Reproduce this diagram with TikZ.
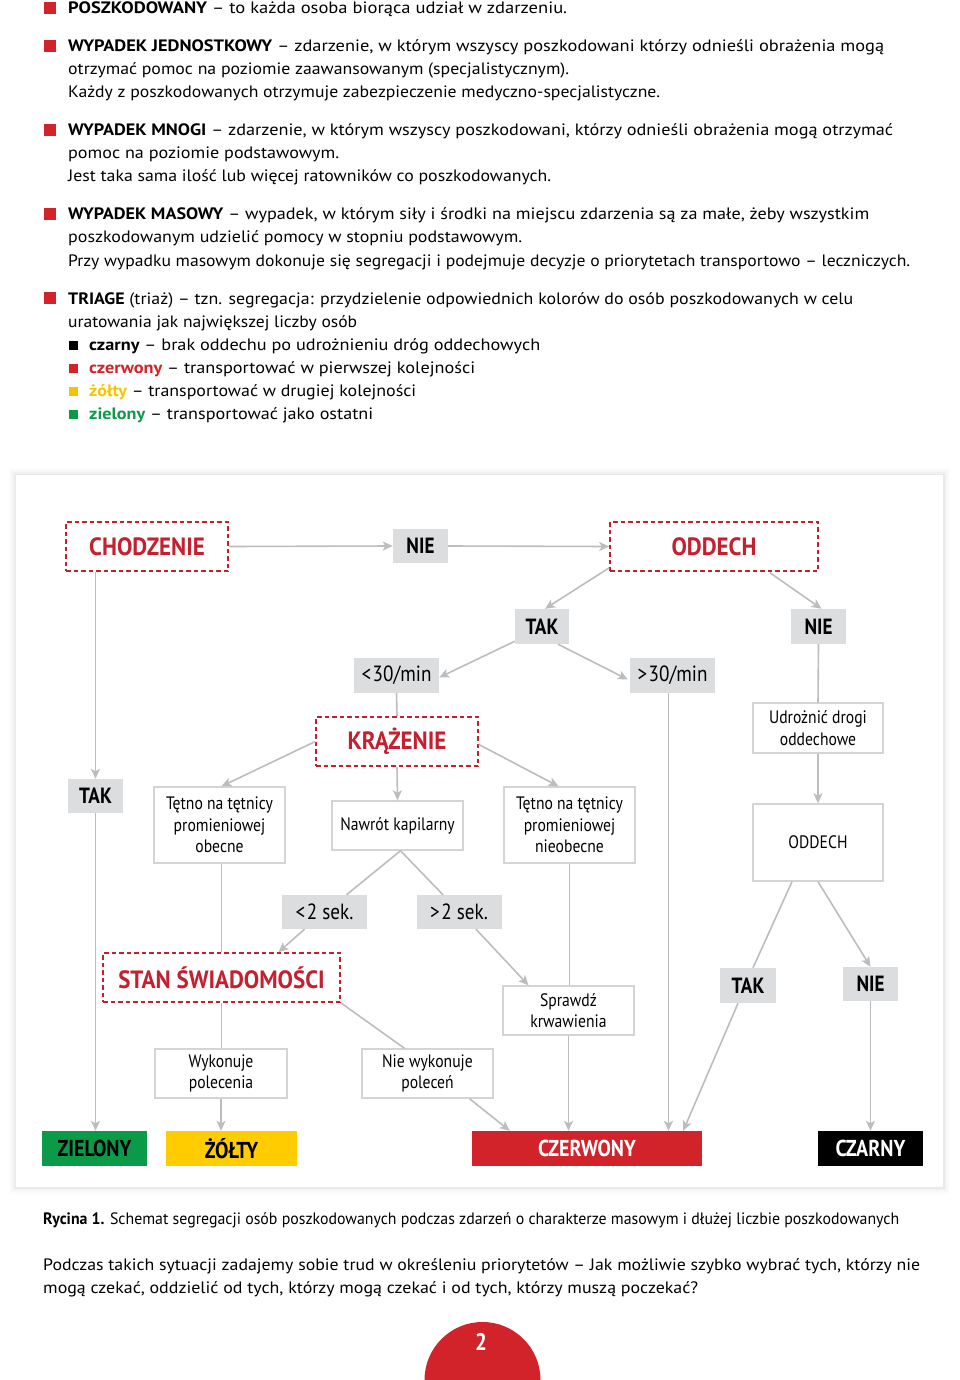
\documentclass[tikz,border=0pt]{standalone}
\usepackage{fontspec}
\setmainfont{PT Sans}
\newfontfamily\cnd[FakeStretch=0.87]{PT Sans}
\newfontfamily\cndt[FakeStretch=0.92]{PT Sans}
\usepackage{graphicx}
\usetikzlibrary{arrows.meta}
\definecolor{tred}{HTML}{C4202F}
\definecolor{bred}{HTML}{D2232A}
\definecolor{tgreen}{HTML}{0A9A48}
\definecolor{tyellow}{HTML}{FFCC00}
\definecolor{lyellow}{HTML}{F5C400}
\definecolor{gbg}{HTML}{DCDDDF}
\definecolor{lgray}{HTML}{BDBDBD}
\definecolor{wline}{HTML}{D4D4D4}
\newcommand\txtline[5]{\node[anchor=base west,inner sep=0,font=\fontsize{16.5}{20}\selectfont] (#1) at (#2,#3) {\resizebox{#4pt}{\height}{#5}};}
\tikzset{
  dbox/.style={draw=tred, dash pattern=on 4.5pt off 3pt, line width=1.6pt, text=tred, inner sep=0, font=\cndt\bfseries\fontsize{25}{25}\selectfont},
  gbox/.style={fill=gbg, inner sep=0, font=\cnd\bfseries\fontsize{22}{22}\selectfont},
  gboxr/.style={fill=gbg, inner sep=0, font=\cnd\fontsize{22}{22}\selectfont},
  wbox/.style={draw=wline, line width=1.4pt, fill=white, inner sep=0, align=center, font=\cnd\fontsize{18}{21.5}\selectfont},
  cbox/.style={inner sep=0, font=\cnd\bfseries\fontsize{23}{23}\selectfont},
  arr/.style={draw=lgray, line width=1.6pt, -{Stealth[length=10pt,width=9pt,inset=2.5pt]}},
  ln/.style={draw=lgray, line width=1.6pt},
  bul/.style={fill=bred, inner sep=0, minimum size=12pt},
  sbul/.style={inner sep=0, minimum size=9pt},
}
\begin{document}
\begin{tikzpicture}[x=1pt,y=-1pt]
\useasboundingbox (0,0) rectangle (960,1380);
% ---------------- top text ----------------
\node[bul] (b1) at (50,8) {};
\txtline{l1}{68}{14}{499}{\textbf{POSZKODOWANY} – to każda osoba biorąca udział w zdarzeniu.}
\node[bul] (b2) at (50,46) {};
\txtline{l2}{68}{52}{816}{\textbf{WYPADEK JEDNOSTKOWY} – zdarzenie, w którym wszyscy poszkodowani którzy odnieśli obrażenia mogą}
\txtline{l3}{68}{75}{501}{otrzymać pomoc na poziomie zaawansowanym (specjalistycznym).}
\txtline{l4}{68}{98}{592}{Każdy z poszkodowanych otrzymuje zabezpieczenie medyczno-specjalistyczne.}
\node[bul] (b3) at (50,130) {};
\txtline{l5}{68}{136}{825}{\textbf{WYPADEK MNOGI} – zdarzenie, w którym wszyscy poszkodowani, którzy odnieśli obrażenia mogą otrzymać}
\txtline{l6}{68}{159}{271}{pomoc na poziomie podstawowym.}
\txtline{l7}{68}{182}{483}{Jest taka sama ilość lub więcej ratowników co poszkodowanych.}
\node[bul] (b4) at (50,214) {};
\txtline{l8}{68}{220}{801}{\textbf{WYPADEK MASOWY} – wypadek, w którym siły i środki na miejscu zdarzenia są za małe, żeby wszystkim}
\txtline{l9}{68}{243}{454}{poszkodowanym udzielić pomocy w stopniu podstawowym.}
\txtline{l10}{68}{266}{842}{Przy wypadku masowym dokonuje się segregacji i podejmuje decyzje o priorytetach transportowo – leczniczych.}
\node[bul] (b5) at (50,298) {};
\txtline{l11}{68}{304}{785}{\textbf{TRIAGE} (triaż) – tzn. segregacja: przydzielenie odpowiednich kolorów do osób poszkodowanych w celu}
\txtline{l12}{68}{327}{289}{uratowania jak największej liczby osób}
\node[sbul, fill=black] (s1) at (73.5,345) {};
\txtline{l13}{89}{350}{451}{\textbf{czarny} – brak oddechu po udrożnieniu dróg oddechowych}
\node[sbul, fill=bred] (s2) at (73.5,368) {};
\txtline{l14}{89}{373}{386}{\textbf{\color{bred}czerwony} – transportować w pierwszej kolejności}
\node[sbul, fill=lyellow] (s3) at (73.5,391) {};
\txtline{l15}{89}{396}{327}{\textbf{\color{lyellow}żółty} – transportować w drugiej kolejności}
\node[sbul, fill=tgreen] (s4) at (73.5,414) {};
\txtline{l16}{89}{419}{284}{\textbf{\color{tgreen}zielony} – transportować jako ostatni}
% ---------------- panel ----------------
\foreach \i/\o in {7/0.012,5/0.018,3/0.025,1.5/0.03}
  \fill[black, opacity=\o] ({16-\i},{475-\i}) rectangle ({943+\i},{1187+\i});
\fill[white] (16,475) rectangle (943,1187);
% ---------------- nodes ----------------
\node[dbox, minimum width=162, minimum height=49] (chod) at (147,546.5) {CHODZENIE};
\node[gbox, minimum width=55, minimum height=34] (nie1) at (420.5,546) {NIE};
\node[dbox, minimum width=208, minimum height=49] (odd) at (714,546.5) {ODDECH};
\node[gbox, minimum width=54, minimum height=35] (tak2) at (542,626.5) {TAK};
\node[gbox, minimum width=55, minimum height=35] (nie2) at (818.5,626.5) {NIE};
\node[gboxr, minimum width=85, minimum height=35] (lt30) at (396.5,675.5) {\textless\kern1.5pt30/min};
\node[gboxr, minimum width=85, minimum height=35] (gt30) at (672.5,675.5) {\textgreater\kern1.5pt30/min};
\node[dbox, minimum width=162, minimum height=49] (krz) at (397,741.5) {KRĄŻENIE};
\node[wbox, minimum width=130, minimum height=50] (udr) at (818,728) {Udrożnić drogi\\oddechowe};
\node[wbox, minimum width=130, minimum height=77] (oddb) at (818,842.5) {ODDECH};
\node[gbox, minimum width=55, minimum height=34] (tak1) at (95.5,796) {TAK};
\node[wbox, minimum width=131, minimum height=76] (tet1) at (219.5,825) {Tętno na tętnicy\\promieniowej\\obecne};
\node[wbox, minimum width=131, minimum height=49] (naw) at (397.5,825.5) {Nawrót kapilarny};
\node[wbox, minimum width=131, minimum height=76] (tet2) at (569.5,825) {Tętno na tętnicy\\promieniowej\\nieobecne};
\node[gboxr, minimum width=85, minimum height=34] (lt2) at (324.5,912) {\textless\kern1.5pt2 sek.};
\node[gboxr, minimum width=85, minimum height=34] (gt2) at (459,912) {\textgreater\kern1.5pt2 sek.};
\node[dbox, minimum width=237, minimum height=49] (stan) at (221.5,977.5) {STAN ŚWIADOMOŚCI};
\node[wbox, minimum width=131, minimum height=49] (spr) at (568.5,1010.5) {Sprawdź\\krwawienia};
\node[wbox, minimum width=132, minimum height=49] (wyk) at (221,1073.5) {Wykonuje\\polecenia};
\node[wbox, minimum width=131, minimum height=49] (nwyk) at (427.5,1073.5) {Nie wykonuje\\poleceń};
\node[gbox, minimum width=56, minimum height=35] (tak3) at (748,985.5) {TAK};
\node[gbox, minimum width=55, minimum height=34] (nie3) at (870.5,984) {NIE};
\node[cbox, fill=tgreen, minimum width=105, minimum height=35] (ziel) at (94.5,1148.5) {ZIELONY};
\node[cbox, fill=tyellow, minimum width=131, minimum height=35] (zolty) at (231.5,1148.5) {ŻÓŁTY};
\node[cbox, fill=bred, text=white, minimum width=230, minimum height=35] (czer) at (587,1148.5) {CZERWONY};
\node[cbox, fill=black, text=white, minimum width=105, minimum height=35] (czarny) at (870.5,1148.5) {CZARNY};
% ---------------- connectors ----------------
\draw[arr] (chod.east) -- (nie1.west);
\draw[arr] (nie1.east) -- (odd.west);
\draw[arr] (chod.south -| tak1.north) -- (tak1.north);
\draw[arr] ([yshift=4pt]odd.south west) -- ([xshift=3pt]tak2.north);
\draw[arr] ([xshift=56pt,yshift=-1pt]odd.south) -- ([xshift=3pt]nie2.north);
\draw[arr] ([yshift=3pt]tak2.south west) -- ([yshift=-2pt]lt30.east);
\draw[arr] ([xshift=16pt]tak2.south) -- ([xshift=-2pt,yshift=-4pt]gt30.west);
\draw[ln] (lt30.south) -- (krz.north);
\draw[ln] (nie2.south) -- (udr.north);
\draw[arr] (udr.south) -- (oddb.north);
\draw[arr] ([xshift=-4pt]gt30.south) -- ([xshift=-4pt]gt30.south |- czer.north);
\draw[arr] (krz.west) -- ([xshift=2pt]tet1.north);
\draw[arr] (krz.south) -- (naw.north);
\draw[arr] ([yshift=-3pt]krz.east) -- ([xshift=-11pt]tet2.north);
\draw[ln] ([xshift=3pt]naw.south) -- ([xshift=22pt]lt2.north);
\draw[ln] ([xshift=3pt]naw.south) -- ([xshift=-16pt]gt2.north);
\draw[arr] ([xshift=-20pt]lt2.south) -- ([xshift=57pt]stan.north);
\draw[ln] (stan.north |- tet1.south) -- (stan.north);
\draw[arr] ([xshift=17pt]gt2.south) -- ([xshift=-40pt]spr.north);
\draw[ln] (tet2.south) -- (tet2.south |- spr.north);
\draw[arr] (spr.south) -- (spr.south |- czer.north);
\draw[ln] (stan.south) -- (stan.south |- wyk.north);
\draw[ln] (stan.south east) -- ([xshift=-23pt]nwyk.north);
\draw[arr] ([xshift=42pt]nwyk.south) -- ([xshift=38pt]czer.north west);
\draw[arr] (wyk.south) -- (wyk.south |- zolty.north);
\draw[arr] (tak1.south) -- (tak1.south |- ziel.north);
\draw[ln] ([xshift=-26pt]oddb.south) -- ([xshift=5pt]tak3.north);
\draw[arr] ([xshift=-10pt]tak3.south) -- ([xshift=-19pt]czer.north east);
\draw[arr] (oddb.south) -- (nie3.north);
\draw[arr] (nie3.south) -- (nie3.south |- czarny.north);
% ---------------- caption & paragraph ----------------
\node[anchor=base west,inner sep=0,font=\fontsize{16.5}{20}\selectfont] (cap) at (43,1224) {\resizebox{856pt}{\height}{\textbf{Rycina 1.} Schemat segregacji osób poszkodowanych podczas zdarzeń o charakterze masowym i dłużej liczbie poszkodowanych}};
\txtline{p1}{43}{1270}{877}{Podczas takich sytuacji zadajemy sobie trud w określeniu priorytetów – Jak możliwie szybko wybrać tych, którzy nie}
\txtline{p2}{43}{1293}{655}{mogą czekać, oddzielić od tych, którzy mogą czekać i od tych, którzy muszą poczekać?}
% ---------------- page number ----------------
\begin{scope}
\clip (0,0) rectangle (960,1380);
\fill[bred] (482.5,1380) circle[radius=58];
\end{scope}
\node[inner sep=0, text=white, font=\cnd\bfseries\fontsize{24}{24}\selectfont] (pg) at (481,1342) {2};
\end{tikzpicture}
\end{document}
